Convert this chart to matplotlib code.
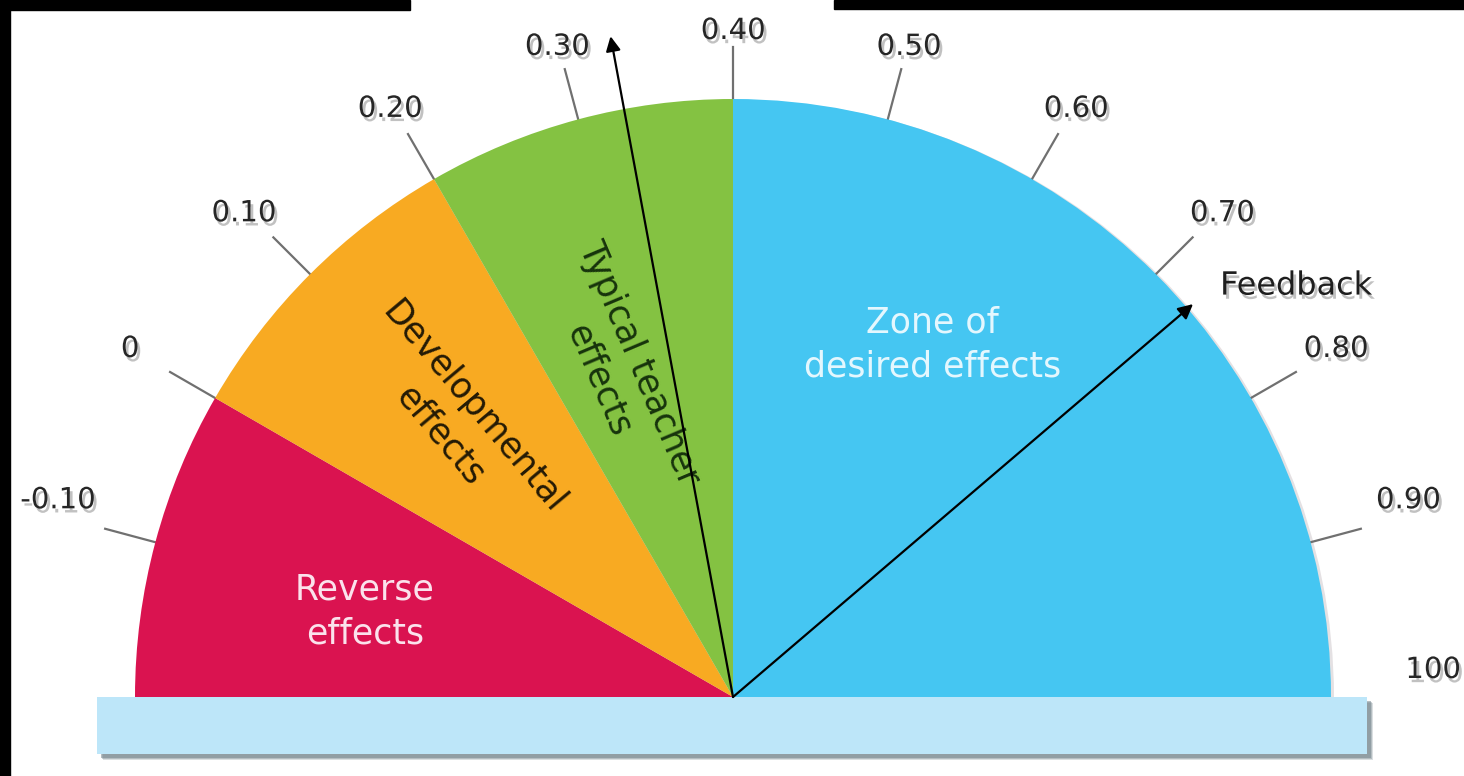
import numpy as np
import matplotlib.pyplot as plt
from matplotlib.patches import Wedge, Rectangle
import matplotlib.patheffects as pe

# --- data ---
zone_names = ["Reverse\neffects", "Developmental\neffects",
              "Typical teacher\neffects", "Zone of\ndesired effects"]
zone_edges = [-0.2, 0.0, 0.2, 0.4, 1.0]
tick_values = [-0.1, 0.0, 0.1, 0.2, 0.3, 0.4, 0.5, 0.6, 0.7, 0.8, 0.9, 1.0]
tick_labels = ["-0.10", "0", "0.10", "0.20", "0.30", "0.40",
               "0.50", "0.60", "0.70", "0.80", "0.90", "100"]
marker_values = [0.33, 0.73]
marker_labels = ["", "Feedback"]

# --- layout / style ---
zone_colors = ["#da1350", "#f8aa22", "#84c242", "#45c6f2"]
zone_text_colors = ["#fbe2ec", "#241a05", "#17330c", "#e4f7fe"]
zone_text_at = [-0.113, 0.10, 0.271, 0.597]   # position along the scale
zone_text_r = [378, 390, 345, 405]
zone_text_rot = [0, -50, -67, 0]
marker_len = [672, 605]

VMIN, VMAX = -0.2, 1.0
W, H = 1464, 776
CX, CY = 733, 79
R = 598

plt.rcParams["font.family"] = "DejaVu Sans"


def angle(v):
    return 180.0 * (VMAX - v) / (VMAX - VMIN)


def polar(v, r):
    a = np.radians(angle(v))
    return CX + r * np.cos(a), CY + r * np.sin(a)


fig = plt.figure(figsize=(W / 100, H / 100), dpi=100)
ax = fig.add_axes([0, 0, 1, 1])
ax.set_xlim(0, W)
ax.set_ylim(0, H)
ax.axis("off")

# black borders of the original screenshot
ax.add_patch(Rectangle((0, 0), 10, H, color="black"))
ax.add_patch(Rectangle((0, H - 10), 410, 10, color="black"))
ax.add_patch(Rectangle((834, H - 9), W - 834, 9, color="black"))

# soft shadow of the dial
ax.add_patch(Wedge((CX + 3, CY - 1), R, 0, 180, fc="#a89ca3", alpha=0.3, ec="none"))

# dial segments
for lo, hi, col in zip(zone_edges[:-1], zone_edges[1:], zone_colors):
    ax.add_patch(Wedge((CX, CY), R, angle(hi), angle(lo), fc=col, ec="none", zorder=2))

# base bar with shadow
for k, al in enumerate([0.25, 0.35, 0.5]):
    ax.add_patch(Rectangle((97 + 6 - k, 22 - 6 + k), 1270, 57, fc="#6f8088", alpha=al,
                           ec="none", zorder=3))
ax.add_patch(Rectangle((97, 22), 1270, 57, fc="#bde6f9", ec="none", zorder=4))

# ticks and tick labels
shadow = [pe.withSimplePatchShadow(offset=(2, -3), shadow_rgbFace="#777777", alpha=0.45)]
for v, lab in zip(tick_values, tick_labels):
    if v < VMAX:
        x0, y0 = polar(v, R)
        x1, y1 = polar(v, R + 52)
        ax.plot([x0, x1], [y0, y1], color="#707070", lw=1.6, zorder=1)
    a = np.radians(angle(v))
    r = 672 + 28 * abs(np.cos(a))
    up = 33 * np.cos(a) ** 12 - 6
    ax.text(CX + r * np.cos(a), CY + r * np.sin(a) + up, lab, fontsize=21,
            color="#262626", ha="center", va="center", path_effects=shadow, zorder=5)

# zone labels
for name, v, r, rot, col in zip(zone_names, zone_text_at, zone_text_r,
                                zone_text_rot, zone_text_colors):
    x, y = polar(v, r)
    ax.text(x, y, name, fontsize=25, color=col, ha="center", va="center",
            rotation=rot, rotation_mode="anchor", linespacing=1.35, zorder=6)

# effect-size arrows
for v, L, lab in zip(marker_values, marker_len, marker_labels):
    tx, ty = polar(v, L)
    ax.annotate("", xy=(tx, ty), xytext=(CX, CY),
                arrowprops=dict(arrowstyle="-|>", color="black", lw=1.6,
                                mutation_scale=22, shrinkA=0, shrinkB=0), zorder=7)
    if lab:
        ax.text(tx + 27, ty + 18, lab, fontsize=23, color="#1e1e1e", ha="left",
                va="center", path_effects=shadow, zorder=7)

fig.savefig("out.png", dpi=100, facecolor="white")
